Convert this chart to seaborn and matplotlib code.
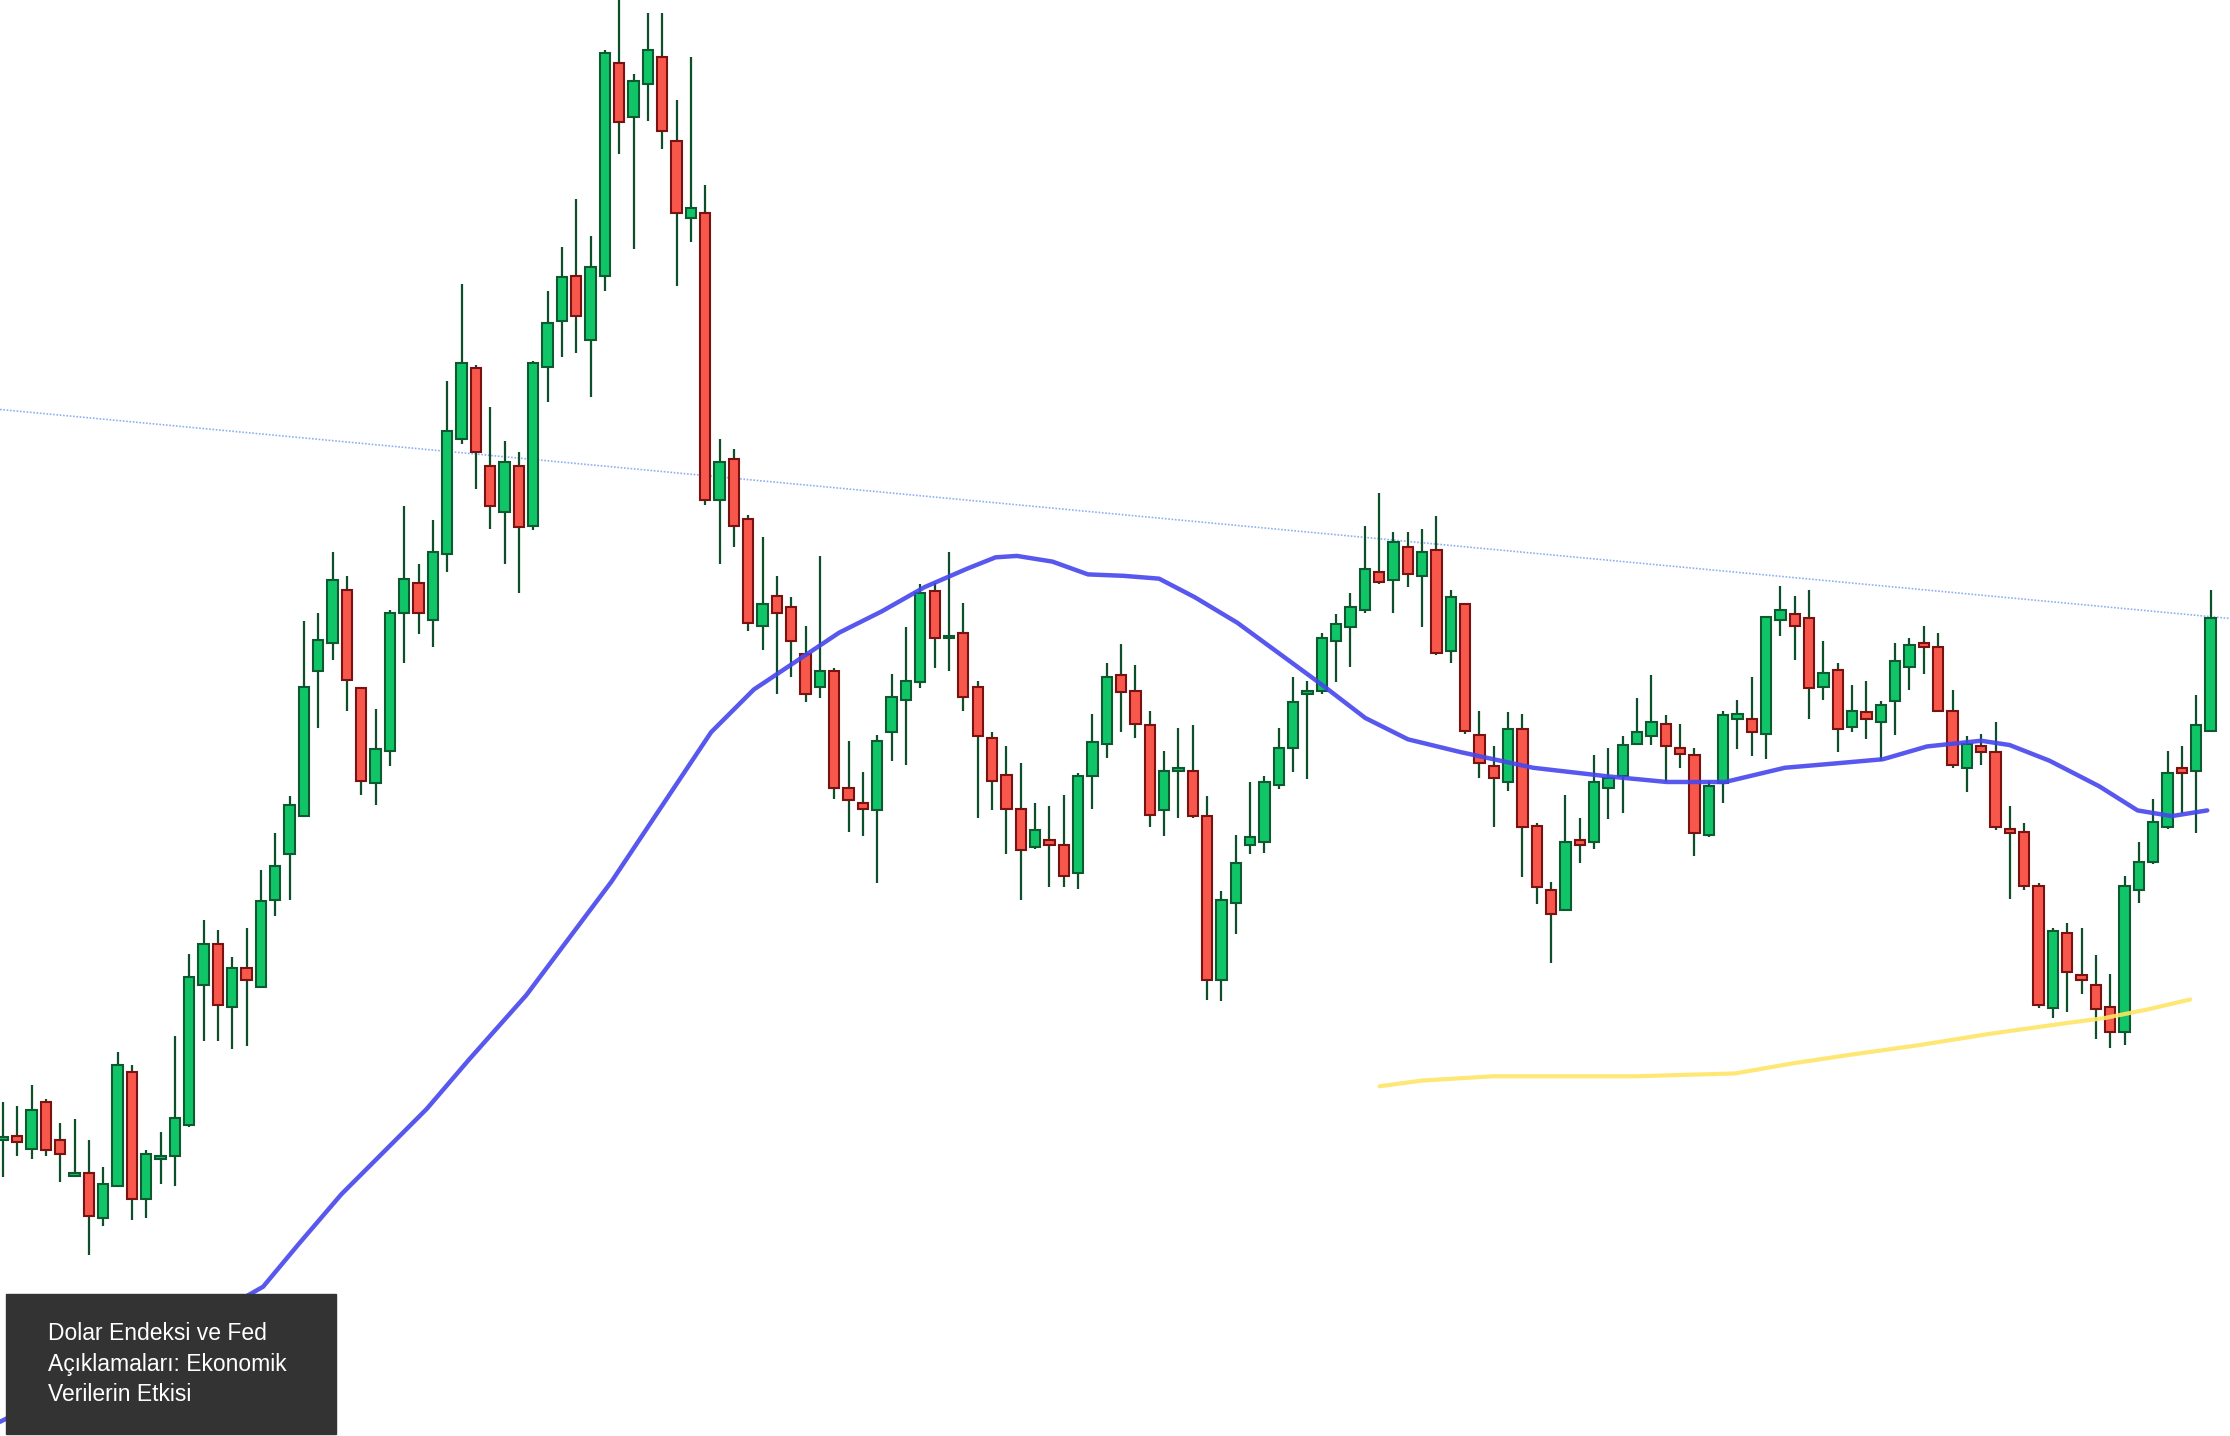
import numpy as np
import pandas as pd
import matplotlib
matplotlib.use('Agg')
import matplotlib.pyplot as plt
import seaborn as sns

# candles as (open, high, low, close), in screen units (down = larger)
candles = [
    (802,775,828,801),(799,778,813,803),(808,763,815,781),(775,773,813,809),(802,790,831,812),
    (827,787,828,826),(825,802,883,855),(857,821,862,833),(834,740,835,749),(754,749,858,843),
    (843,809,857,812),(815,796,833,814),(813,729,834,786),(791,671,793,687),(693,647,732,664),
    (664,654,732,707),(708,673,738,681),(681,653,736,689),(694,612,695,634),(633,586,644,609),
    (601,560,633,566),(574,437,574,483),(472,431,512,450),(452,388,464,408),(415,405,500,478),
    (484,483,559,549),(551,499,566,527),(528,429,539,431),(431,356,466,407),(410,397,446,431),
    (436,366,455,388),(390,268,402,303),(309,200,312,255),(259,257,344,318),(328,286,372,356),
    (360,310,397,325),(328,318,417,371),(370,254,373,255),(258,205,283,227),(226,174,251,195),
    (194,140,248,222),(239,166,279,188),(194,35,205,37),(44,0,108,86),(82,52,175,57),
    (59,9,85,35),(40,9,105,92),(99,70,201,150),(153,40,170,146),(150,130,355,352),
    (352,309,397,325),(323,316,385,370),(365,362,444,438),(440,378,457,425),(419,405,488,431),
    (427,420,476,451),(460,440,494,488),(483,391,491,472),(472,470,562,554),(554,521,585,563),
    (565,543,588,569),(570,517,621,521),(515,474,535,490),(492,441,538,479),(480,411,484,417),
    (416,410,470,449),(449,388,472,448),(445,424,500,490),(483,479,575,518),(519,515,570,549),
    (545,525,601,569),(569,537,633,598),(596,565,597,584),(591,567,624,594),(594,559,624,616),
    (614,544,625,546),(546,502,569,522),(523,466,533,476),(475,453,515,487),(486,468,519,509),
    (510,500,582,573),(570,528,588,542),(542,512,575,541),(542,510,575,574),(574,560,703,689),
    (689,627,704,633),(635,587,657,607),(594,550,601,589),(592,546,600,550),(552,512,555,526),
    (526,476,543,494),(488,479,548,487),(486,445,488,449),(451,432,480,439),(441,417,469,427),
    (429,370,431,400),(402,347,411,409),(408,374,431,381),(385,374,413,404),(405,372,441,388),
    (387,363,461,459),(458,415,466,420),(425,424,516,514),(517,500,547,537),(539,525,582,547),
    (550,501,556,513),(513,502,617,582),(581,579,636,624),(626,620,677,643),(640,559,641,592),
    (591,575,607,594),(592,531,597,550),(554,526,576,547),(546,518,572,524),(523,491,524,515),
    (518,475,524,508),(509,503,550,525),(526,509,540,530),(531,526,602,586),(587,549,589,553),
    (551,500,565,503),(506,492,527,502),(506,476,532,515),(516,433,534,434),(436,412,447,429),
    (432,419,464,440),(435,415,506,484),(483,451,492,473),(471,466,529,513),(511,482,515,500),
    (501,479,520,506),(508,493,535,496),(493,452,517,465),(469,449,485,454),(452,440,474,455),
    (455,445,501,500),(500,485,540,538),(540,518,557,523),(525,516,538,529),(529,508,584,582),
    (583,567,632,586),(585,579,626,623),(623,621,709,707),(709,653,716,655),(656,649,712,684),
    (686,653,699,689),(693,672,731,710),(708,685,737,726),(726,616,735,623),(626,592,635,606),
    (606,562,608,578),(582,528,583,544),(540,525,572,544),(542,489,586,510),(514,415,515,435),
]

# moving average (blue) and long average (yellow), screen x / y
ma_x = [0,50,100,150,185,210,240,280,300,330,370,400,430,470,500,530,560,590,620,650,680,700,715,
        740,765,790,815,840,870,900,930,960,990,1027,1078,1130,1172,1213,1255,1290,1324,1355,1393,
        1413,1441,1476,1503,1527,1552]
ma_y = [1000,975,950,925,905,875,840,800,780,745,700,660,620,560,515,485,465,445,430,413,400,392,391,
        395,404,405,407,420,438,460,482,505,520,529,540,546,550,550,540,537,534,525,521,
        524,535,553,570,574,570]
long_x = [970,1000,1050,1100,1150,1220,1260,1300,1350,1400,1450,1480,1510,1540]
long_y = [764,760,757,757,757,755,748,742,735,727,720,716,710,703]
trend_x = [0, 1568]
trend_y = [288, 435]

title = "Dolar Endeksi ve Fed\nAçıklamaları: Ekonomik\nVerilerin Etkisi"

# screen units -> price / candle index
def to_price(v):
    return 110 - np.asarray(v, dtype=float) / 50

def to_pos(v):
    return (np.asarray(v, dtype=float) - 2) / 10.08

df = pd.DataFrame(candles, columns=['open', 'high', 'low', 'close'])
for c in df.columns:
    df[c] = to_price(df[c])
df['pos'] = np.arange(len(df))
up = df['close'] >= df['open']

sns.set_style('white')
fig = plt.figure(figsize=(22.3, 14.36), dpi=100)
ax = fig.add_axes([0, 0, 1, 1])

ax.plot(to_pos(trend_x), to_price(trend_y), color='#8fb0f0', lw=1.2, ls=(0, (1, 1)), zorder=1)

ax.vlines(df['pos'], df['low'], df['high'], color='#0d4f2b', lw=1.6, zorder=2)
body_lo = np.minimum(df['open'], df['close'])
body_h = np.maximum((df['close'] - df['open']).abs(), 0.04)
ax.bar(df['pos'][up], body_h[up], bottom=body_lo[up], width=0.72,
       color='#10c567', edgecolor='#0d5a30', linewidth=1.5, zorder=3)
ax.bar(df['pos'][~up], body_h[~up], bottom=body_lo[~up], width=0.72,
       color='#f8584c', edgecolor='#7a1212', linewidth=1.5, zorder=3)

ma_df = pd.DataFrame({'pos': to_pos(ma_x), 'val': to_price(ma_y)})
long_df = pd.DataFrame({'pos': to_pos(long_x), 'val': to_price(long_y)})
sns.lineplot(data=ma_df, x='pos', y='val', ax=ax, color='#4646ee', lw=3.2, alpha=0.9, zorder=4)
sns.lineplot(data=long_df, x='pos', y='val', ax=ax, color='#ffe566', lw=3.0, alpha=0.9, zorder=4)

ax.set_xlim(to_pos(0), to_pos(1568))
ax.set_ylim(to_price(1010), to_price(0))
ax.axis('off')

fig.patches.append(plt.Rectangle((6 / 2230, 1 - 1434 / 1436), 330 / 2230, 140 / 1436,
                                 transform=fig.transFigure, color='#333333', zorder=5))
fig.text(48 / 2230, 1 - 1322 / 1436, title, color='white', fontsize=16.5, va='top',
         linespacing=1.42, family=['Liberation Sans', 'DejaVu Sans'], zorder=6)

fig.savefig('out.png', dpi=100)
